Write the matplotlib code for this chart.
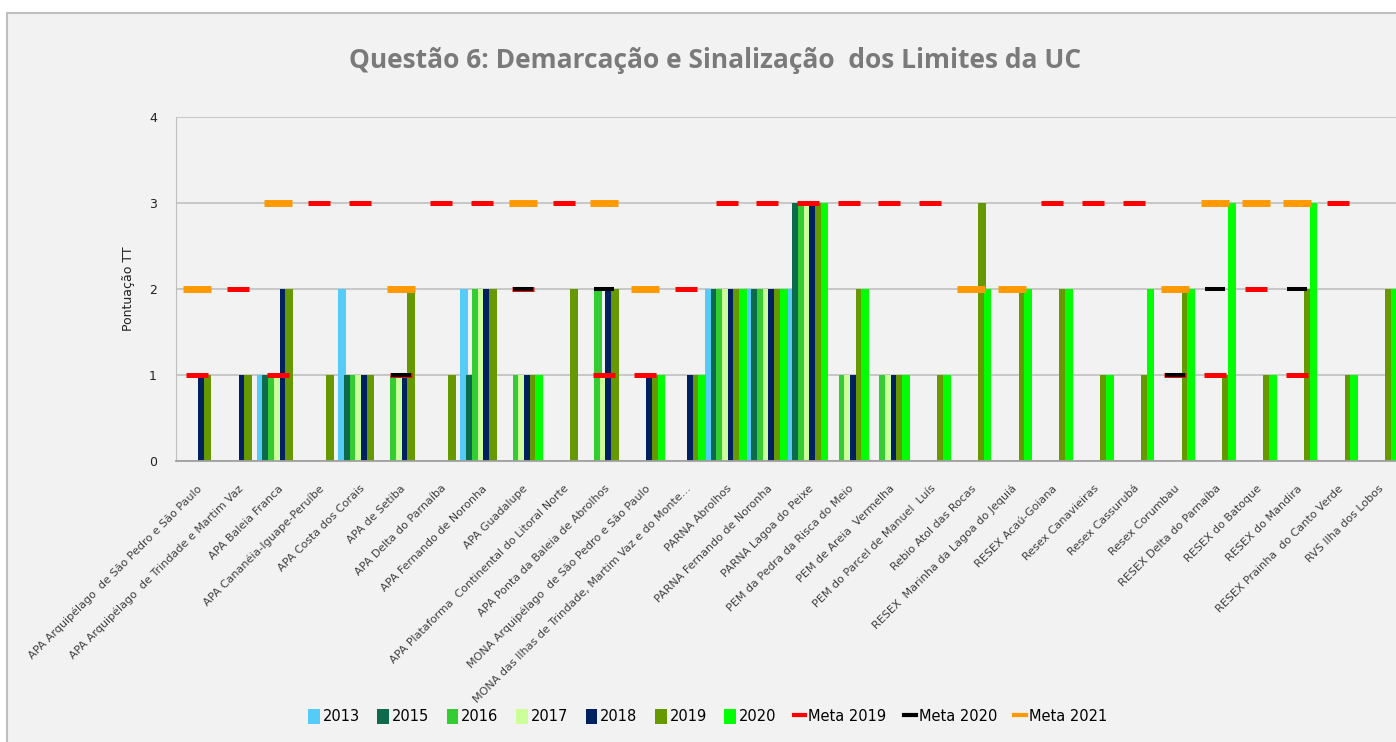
import numpy as np
import matplotlib
matplotlib.use("Agg")
import matplotlib.pyplot as plt
from matplotlib.patches import Patch, Rectangle
from matplotlib.lines import Line2D

nan = np.nan

categorias = [
    "APA Arquipélago  de São Pedro e São Paulo",
    "APA Arquipélago  de Trindade e Martim Vaz",
    "APA Baleia Franca",
    "APA Cananéia-Iguape-Peruíbe",
    "APA Costa dos Corais",
    "APA de Setiba",
    "APA Delta do Parnaíba",
    "APA Fernando de Noronha",
    "APA Guadalupe",
    "APA Plataforma  Continental do Litoral Norte",
    "APA Ponta da Baleia de Abrolhos",
    "MONA Arquipélago  de São Pedro e São Paulo",
    "MONA das Ilhas de Trindade, Martim Vaz e do Monte…",
    "PARNA Abrolhos",
    "PARNA Fernando de Noronha",
    "PARNA Lagoa do Peixe",
    "PEM da Pedra da Risca do Meio",
    "PEM de Areia  Vermelha",
    "PEM do Parcel de Manuel  Luís",
    "Rebio Atol das Rocas",
    "RESEX  Marinha da Lagoa do Jequiá",
    "RESEX Acaú-Goiana",
    "Resex Canavieiras",
    "Resex Cassurubá",
    "Resex Corumbau",
    "RESEX Delta do Parnaíba",
    "RESEX do Batoque",
    "RESEX do Mandira",
    "RESEX Prainha  do Canto Verde",
    "RVS Ilha dos Lobos",
]

v2013 = [nan, nan, 1, nan, 2, nan, nan, 2, nan, nan, nan, nan, nan, 2, 2, 2,
         nan, nan, nan, nan, nan, nan, nan, nan, nan, nan, nan, nan, nan, nan]
v2015 = [nan, nan, 1, nan, 1, nan, nan, 1, nan, nan, nan, nan, nan, 2, 2, 3,
         nan, nan, nan, nan, nan, nan, nan, nan, nan, nan, nan, nan, nan, nan]
v2016 = [nan, nan, 1, nan, 1, 1, nan, 2, 1, nan, 2, nan, nan, 2, 2, 3,
         1, 1, nan, nan, nan, nan, nan, nan, nan, nan, nan, nan, nan, nan]
v2017 = [nan, nan, 1, nan, 1, 1, nan, 2, 1, nan, 1, nan, nan, 2, 2, 3,
         1, 1, nan, nan, nan, nan, nan, nan, nan, nan, nan, nan, nan, nan]
v2018 = [1, 1, 2, nan, 1, 1, nan, 2, 1, nan, 2, 1, 1, 2, 2, 3,
         1, 1, nan, nan, nan, nan, nan, nan, nan, nan, nan, nan, nan, nan]
v2019 = [1, 1, 2, 1, 1, 2, 1, 2, 1, 2, 2, 1, 1, 2, 2, 3,
         2, 1, 1, 3, 2, 2, 1, 1, 2, 1, 1, 2, 1, 2]
v2020 = [nan, nan, nan, nan, nan, nan, nan, nan, 1, nan, nan, 1, 1, 2, 2, 3,
         2, 1, 1, 2, 2, 2, 1, 2, 2, 3, 1, 3, 1, 2]

meta2019 = [1, 2, 1, 3, 3, 1, 3, 3, 2, 3, 1, 1, 2, 3, 3, 3,
            3, 3, 3, nan, nan, 3, 3, 3, 1, 1, 2, 1, 3, nan]
meta2020 = [nan, nan, nan, nan, nan, 1, nan, nan, 2, nan, 2, nan, nan, nan, nan, nan,
            nan, nan, nan, nan, nan, nan, nan, nan, 1, 2, nan, 2, nan, nan]
meta2021 = [2, nan, 3, nan, nan, 2, nan, nan, 3, nan, 3, 2, nan, nan, nan, nan,
            nan, nan, nan, 2, 2, nan, nan, nan, 2, 3, 3, 3, nan, nan]

anos = ["2013", "2015", "2016", "2017", "2018", "2019", "2020"]
series = [v2013, v2015, v2016, v2017, v2018, v2019, v2020]
cores = ["#55cbf7", "#0d6b4c", "#33cc33", "#ccff99", "#002060", "#669900", "#00ff00"]

fig = plt.figure(figsize=(13.96, 7.42), dpi=100)
fig.patch.set_facecolor("white")
fig.patches.append(Rectangle((0.005, -0.01), 1.0, 0.9925, transform=fig.transFigure,
                             facecolor="#f2f2f2", edgecolor="#bfbfbf", lw=1.5, zorder=-5))

ax = fig.add_axes([0.1264, 0.3787, 0.8756, 0.4636])
ax.set_facecolor("#f2f2f2")

x = np.arange(len(categorias))
passo = 0.14
largura = 0.19
for i, (vals, cor, ano) in enumerate(zip(series, cores, anos)):
    ax.bar(x + (i - 3) * passo - 0.015, vals, width=largura, color=cor, zorder=2, label=ano)

ax.plot(x, meta2019, ls="none", marker="_", ms=16, mew=3.6, color="#ff0000", zorder=3)
ax.plot(x, meta2020, ls="none", marker="_", ms=14, mew=2.9, color="black", zorder=4)
ax.plot(x, meta2021, ls="none", marker="_", ms=20, mew=5, color="#ff9900", zorder=5)

ax.set_xlim(-0.5, len(categorias) - 0.5)
ax.set_ylim(0, 4)
ax.set_yticks([0, 1, 2, 3, 4])
ax.yaxis.grid(True, color="#c0c0c0", lw=1.2)
ax.set_axisbelow(True)
for s in ["top", "right"]:
    ax.spines[s].set_visible(False)
ax.spines["left"].set_color("#bfbfbf")
ax.spines["bottom"].set_color("#a0a0a0")
ax.spines["bottom"].set_linewidth(1.3)
ax.tick_params(axis="y", length=0, pad=14, labelsize=9, labelcolor="#222222")
ax.tick_params(axis="x", length=0, pad=16)
ax.set_xticks(x)
ax.set_xticklabels(categorias, rotation=45, ha="right", rotation_mode="anchor",
                   fontsize=8, color="#404040")
ax.set_ylabel("Pontuação TT", fontsize=9, labelpad=10, color="#222222")

fig.text(0.512, 0.918, "Questão 6: Demarcação e Sinalização  dos Limites da UC",
         ha="center", va="center", fontsize=19, fontweight="bold", color="#7a7a7a",
         family="Open Sans")

handles = [Patch(facecolor=c, label=a) for c, a in zip(cores, anos)]
handles += [Line2D([], [], color="#ff0000", lw=3, label="Meta 2019"),
            Line2D([], [], color="black", lw=3, label="Meta 2020"),
            Line2D([], [], color="#ff9900", lw=3, label="Meta 2021")]
fig.legend(handles=handles, loc="center", bbox_to_anchor=(0.507, 0.034), ncol=10,
           frameon=False, fontsize=10.5, handlelength=0.8, handleheight=1.2,
           handletextpad=0.2, columnspacing=1.2)

fig.savefig("out.png", dpi=100, facecolor=fig.get_facecolor())
